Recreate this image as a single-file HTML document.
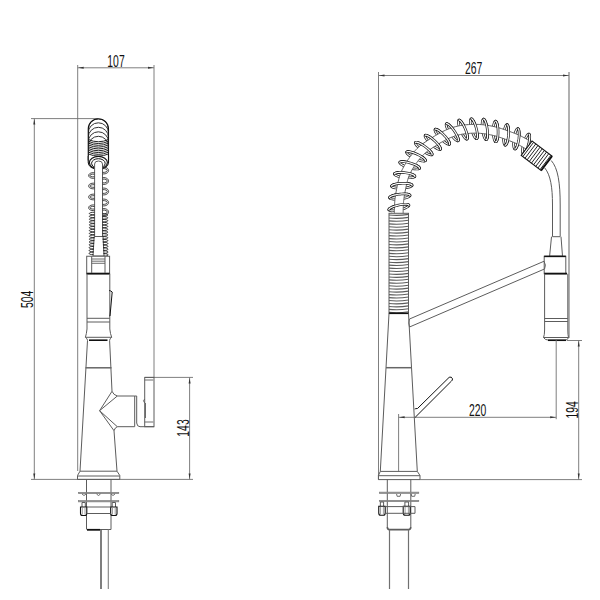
<!DOCTYPE html>
<html><head><meta charset="utf-8"><style>
html,body{margin:0;padding:0;background:#fff;}
svg{display:block;}
text{font-family:"Liberation Sans",sans-serif;}
</style></head><body>
<svg width="600" height="600" viewBox="0 0 600 600">
<rect width="600" height="600" fill="#fff"/>
<line x1="77.70" y1="65.00" x2="77.70" y2="471.00" stroke="#707070" stroke-width="0.9"/>
<line x1="154.00" y1="65.00" x2="154.00" y2="377.40" stroke="#707070" stroke-width="0.9"/>
<line x1="77.70" y1="67.80" x2="154.00" y2="67.80" stroke="#707070" stroke-width="0.9"/>
<polygon points="78.20,67.80 83.70,66.80 83.70,68.80" fill="#333"/>
<polygon points="153.50,67.80 148.00,68.80 148.00,66.80" fill="#333"/>
<text transform="translate(116.00,66.80) scale(0.6,1)" text-anchor="middle" font-size="17.3" fill="#111">107</text>
<line x1="31.00" y1="118.60" x2="98.00" y2="118.60" stroke="#707070" stroke-width="0.9"/>
<line x1="34.30" y1="118.60" x2="34.30" y2="479.40" stroke="#707070" stroke-width="0.9"/>
<polygon points="34.30,119.10 35.30,124.60 33.30,124.60" fill="#333"/>
<polygon points="34.30,478.90 33.30,473.40 35.30,473.40" fill="#333"/>
<text transform="translate(33.20,299.30) rotate(-90) scale(0.6,1)" text-anchor="middle" font-size="17.3" fill="#111">504</text>
<line x1="31.00" y1="479.40" x2="193.00" y2="479.40" stroke="#707070" stroke-width="0.9"/>
<line x1="145.00" y1="377.40" x2="193.00" y2="377.40" stroke="#707070" stroke-width="0.9"/>
<line x1="189.60" y1="377.40" x2="189.60" y2="479.40" stroke="#707070" stroke-width="0.9"/>
<polygon points="189.60,377.90 190.60,383.40 188.60,383.40" fill="#333"/>
<polygon points="189.60,478.90 188.60,473.40 190.60,473.40" fill="#333"/>
<text transform="translate(188.80,428.00) rotate(-90) scale(0.6,1)" text-anchor="middle" font-size="17.3" fill="#111">143</text>
<defs><clipPath id="hc"><path d="M88.25,128.82 A10.12,10.12 0 0 1 108.50,128.82 L108.50,167 L88.25,167 Z"/></clipPath></defs>
<path d="M88.25,128.82 A10.12,10.12 0 0 1 108.50,128.82 L108.50,160 L88.25,160 Z" fill="#fff" stroke="#111" stroke-width="1.1" />
<g clip-path="url(#hc)">
<path d="M88.25,132.93 A10.12,10.12 0 0 1 108.50,132.93 L108.50,138.93" fill="none" stroke="#333" stroke-width="1.0"/>
<path d="M88.25,137.43 A10.12,10.12 0 0 1 108.50,137.43 L108.50,143.43" fill="none" stroke="#333" stroke-width="1.0"/>
<path d="M88.25,141.93 A10.12,10.12 0 0 1 108.50,141.93 L108.50,147.93" fill="none" stroke="#333" stroke-width="1.0"/>
<path d="M88.25,146.43 A10.12,10.12 0 0 1 108.50,146.43 L108.50,152.43" fill="none" stroke="#333" stroke-width="1.0"/>
<path d="M88.25,160.00 L88.25,128.82 A10.12,10.12 0 0 1 108.50,128.82 L108.50,160.00" fill="none" stroke="#111" stroke-width="1.1"/>
<path d="M88.25,139.50 Q98.38,144.00 108.50,139.50" fill="none" stroke="#222" stroke-width="1.0"/>
<path d="M88.25,141.30 Q98.38,145.80 108.50,141.30" fill="none" stroke="#222" stroke-width="1.0"/>
<path d="M88.25,143.10 Q98.38,147.60 108.50,143.10" fill="none" stroke="#222" stroke-width="1.0"/>
<path d="M88.25,144.90 Q98.38,149.40 108.50,144.90" fill="none" stroke="#222" stroke-width="1.0"/>
<path d="M88.25,146.70 Q98.38,151.20 108.50,146.70" fill="none" stroke="#222" stroke-width="1.0"/>
<path d="M88.25,148.50 Q98.38,153.00 108.50,148.50" fill="none" stroke="#222" stroke-width="1.0"/>
<path d="M88.25,150.30 Q98.38,154.80 108.50,150.30" fill="none" stroke="#222" stroke-width="1.0"/>
<path d="M88.25,152.10 Q98.38,156.60 108.50,152.10" fill="none" stroke="#222" stroke-width="1.0"/>
<path d="M88.25,153.90 Q98.38,158.40 108.50,153.90" fill="none" stroke="#222" stroke-width="1.0"/>
</g>
<path d="M88.25,156 L88.25,162.5 A10.12,6.9 0 0 0 108.50,162.5 L108.50,156" fill="#fff" stroke="#111" stroke-width="1.1" />
<ellipse cx="98.38" cy="162.6" rx="9.0" ry="6.2" fill="none" stroke="#111" stroke-width="1.1"/>
<ellipse cx="98.38" cy="163.3" rx="6.8" ry="4.6" fill="none" stroke="#111" stroke-width="1.0"/>
<path d="M94.6,237 L94.6,164 Q94.6,161 98.5,161 Q102.5,161 102.5,164 L102.5,237" fill="#fff" stroke="#5c5c5c" stroke-width="1.0" />
<path d="M94.60,172.70 C86.60,172.10 86.60,178.90 94.60,178.30" fill="none" stroke="#333" stroke-width="0.9"/>
<path d="M94.60,174.20 C88.30,173.80 88.30,177.20 94.60,176.80" fill="none" stroke="#333" stroke-width="0.9"/>
<path d="M94.60,183.20 C86.60,182.60 86.60,189.40 94.60,188.80" fill="none" stroke="#333" stroke-width="0.9"/>
<path d="M94.60,184.70 C88.30,184.30 88.30,187.70 94.60,187.30" fill="none" stroke="#333" stroke-width="0.9"/>
<path d="M94.60,194.20 C86.60,193.60 86.60,200.40 94.60,199.80" fill="none" stroke="#333" stroke-width="0.9"/>
<path d="M94.60,195.70 C88.30,195.30 88.30,198.70 94.60,198.30" fill="none" stroke="#333" stroke-width="0.9"/>
<path d="M94.60,204.95 C86.60,204.35 86.60,211.15 94.60,210.55" fill="none" stroke="#333" stroke-width="0.9"/>
<path d="M94.60,206.45 C88.30,206.05 88.30,209.45 94.60,209.05" fill="none" stroke="#333" stroke-width="0.9"/>
<path d="M102.50,167.10 C110.60,166.50 110.60,174.50 102.50,173.90" fill="none" stroke="#333" stroke-width="0.9"/>
<path d="M102.50,168.60 C108.90,168.20 108.90,172.80 102.50,172.40" fill="none" stroke="#333" stroke-width="0.9"/>
<path d="M102.50,177.60 C110.60,177.00 110.60,185.00 102.50,184.40" fill="none" stroke="#333" stroke-width="0.9"/>
<path d="M102.50,179.10 C108.90,178.70 108.90,183.30 102.50,182.90" fill="none" stroke="#333" stroke-width="0.9"/>
<path d="M102.50,188.10 C110.60,187.50 110.60,195.50 102.50,194.90" fill="none" stroke="#333" stroke-width="0.9"/>
<path d="M102.50,189.60 C108.90,189.20 108.90,193.80 102.50,193.40" fill="none" stroke="#333" stroke-width="0.9"/>
<path d="M102.50,199.10 C110.60,198.50 110.60,206.50 102.50,205.90" fill="none" stroke="#333" stroke-width="0.9"/>
<path d="M102.50,200.60 C108.90,200.20 108.90,204.80 102.50,204.40" fill="none" stroke="#333" stroke-width="0.9"/>
<path d="M102.50,208.60 C110.60,208.00 110.60,216.00 102.50,215.40" fill="none" stroke="#333" stroke-width="0.9"/>
<path d="M102.50,210.10 C108.90,209.70 108.90,214.30 102.50,213.90" fill="none" stroke="#333" stroke-width="0.9"/>
<polygon points="94.20,236.50 93.00,256.00 104.00,256.00 103.00,236.50" fill="#fff" stroke="#5c5c5c" stroke-width="1.0"/>
<path d="M94.50,212.30 C87.6,212.00 87.6,215.00 94.50,214.70" fill="none" stroke="#1a1a1a" stroke-width="0.85" />
<path d="M94.50,215.15 C87.6,214.85 87.6,217.85 94.50,217.55" fill="none" stroke="#1a1a1a" stroke-width="0.85" />
<path d="M94.50,218.00 C87.6,217.70 87.6,220.70 94.50,220.40" fill="none" stroke="#1a1a1a" stroke-width="0.85" />
<path d="M94.50,220.85 C87.6,220.55 87.6,223.55 94.50,223.25" fill="none" stroke="#1a1a1a" stroke-width="0.85" />
<path d="M94.50,223.70 C87.6,223.40 87.6,226.40 94.50,226.10" fill="none" stroke="#1a1a1a" stroke-width="0.85" />
<path d="M94.50,226.55 C87.6,226.25 87.6,229.25 94.50,228.95" fill="none" stroke="#1a1a1a" stroke-width="0.85" />
<path d="M94.50,229.40 C87.6,229.10 87.6,232.10 94.50,231.80" fill="none" stroke="#1a1a1a" stroke-width="0.85" />
<path d="M94.50,232.25 C87.6,231.95 87.6,234.95 94.50,234.65" fill="none" stroke="#1a1a1a" stroke-width="0.85" />
<path d="M94.50,235.10 C87.6,234.80 87.6,237.80 94.50,237.50" fill="none" stroke="#1a1a1a" stroke-width="0.85" />
<path d="M94.34,237.95 C87.6,237.65 87.6,240.65 94.34,240.35" fill="none" stroke="#1a1a1a" stroke-width="0.85" />
<path d="M94.16,240.80 C87.6,240.50 87.6,243.50 94.16,243.20" fill="none" stroke="#1a1a1a" stroke-width="0.85" />
<path d="M93.99,243.65 C87.6,243.35 87.6,246.35 93.99,246.05" fill="none" stroke="#1a1a1a" stroke-width="0.85" />
<path d="M93.81,246.50 C87.6,246.20 87.6,249.20 93.81,248.90" fill="none" stroke="#1a1a1a" stroke-width="0.85" />
<path d="M93.64,249.35 C87.6,249.05 87.6,252.05 93.64,251.75" fill="none" stroke="#1a1a1a" stroke-width="0.85" />
<path d="M93.46,252.20 C87.6,251.90 87.6,254.90 93.46,254.60" fill="none" stroke="#1a1a1a" stroke-width="0.85" />
<path d="M102.50,213.80 C109.6,213.50 109.6,216.50 102.50,216.20" fill="none" stroke="#1a1a1a" stroke-width="0.85" />
<path d="M102.50,216.65 C109.6,216.35 109.6,219.35 102.50,219.05" fill="none" stroke="#1a1a1a" stroke-width="0.85" />
<path d="M102.50,219.50 C109.6,219.20 109.6,222.20 102.50,221.90" fill="none" stroke="#1a1a1a" stroke-width="0.85" />
<path d="M102.50,222.35 C109.6,222.05 109.6,225.05 102.50,224.75" fill="none" stroke="#1a1a1a" stroke-width="0.85" />
<path d="M102.50,225.20 C109.6,224.90 109.6,227.90 102.50,227.60" fill="none" stroke="#1a1a1a" stroke-width="0.85" />
<path d="M102.50,228.05 C109.6,227.75 109.6,230.75 102.50,230.45" fill="none" stroke="#1a1a1a" stroke-width="0.85" />
<path d="M102.50,230.90 C109.6,230.60 109.6,233.60 102.50,233.30" fill="none" stroke="#1a1a1a" stroke-width="0.85" />
<path d="M102.50,233.75 C109.6,233.45 109.6,236.45 102.50,236.15" fill="none" stroke="#1a1a1a" stroke-width="0.85" />
<path d="M102.58,236.60 C109.6,236.30 109.6,239.30 102.58,239.00" fill="none" stroke="#1a1a1a" stroke-width="0.85" />
<path d="M102.76,239.45 C109.6,239.15 109.6,242.15 102.76,241.85" fill="none" stroke="#1a1a1a" stroke-width="0.85" />
<path d="M102.93,242.30 C109.6,242.00 109.6,245.00 102.93,244.70" fill="none" stroke="#1a1a1a" stroke-width="0.85" />
<path d="M103.11,245.15 C109.6,244.85 109.6,247.85 103.11,247.55" fill="none" stroke="#1a1a1a" stroke-width="0.85" />
<path d="M103.28,248.00 C109.6,247.70 109.6,250.70 103.28,250.40" fill="none" stroke="#1a1a1a" stroke-width="0.85" />
<path d="M103.46,250.85 C109.6,250.55 109.6,253.55 103.46,253.25" fill="none" stroke="#1a1a1a" stroke-width="0.85" />
<path d="M103.63,253.70 C109.6,253.40 109.6,256.40 103.63,256.10" fill="none" stroke="#1a1a1a" stroke-width="0.85" />
<rect x="86.70" y="256.25" width="22.90" height="17.50" fill="#fff" stroke="#5c5c5c" stroke-width="1.0"/>
<line x1="86.70" y1="273.60" x2="109.60" y2="273.60" stroke="#111" stroke-width="1.8"/>
<line x1="91.70" y1="256.25" x2="91.70" y2="273.00" stroke="#5c5c5c" stroke-width="1.0"/>
<line x1="105.00" y1="256.25" x2="105.00" y2="273.00" stroke="#5c5c5c" stroke-width="1.0"/>
<line x1="91.70" y1="259.00" x2="105.00" y2="259.00" stroke="#5c5c5c" stroke-width="0.9"/>
<line x1="91.70" y1="261.20" x2="105.00" y2="261.20" stroke="#5c5c5c" stroke-width="0.9"/>
<line x1="91.70" y1="263.30" x2="105.00" y2="263.30" stroke="#5c5c5c" stroke-width="0.9"/>
<path d="M87,273.75 L87,329 Q86.5,334 85.4,337.3 L111.7,337.3 Q110.3,334 109.8,329 L109.8,273.75" fill="none" stroke="#5c5c5c" stroke-width="1.0" />
<line x1="87.00" y1="318.30" x2="109.80" y2="318.30" stroke="#5c5c5c" stroke-width="1.0"/>
<line x1="87.00" y1="322.00" x2="109.80" y2="322.00" stroke="#5c5c5c" stroke-width="1.0"/>
<path d="M109.2,290.5 Q110.5,290.5 112.2,292 L110,316 L109.6,316" fill="none" stroke="#111" stroke-width="1.0" />
<path d="M85.4,337.3 Q87.5,338.5 87.5,340.5 M111.7,337.3 Q109.6,338.5 109.6,340.5" fill="none" stroke="#5c5c5c" stroke-width="1.0" />
<line x1="89.00" y1="340.20" x2="107.50" y2="340.20" stroke="#111" stroke-width="1.6"/>
<path d="M87.5,340.5 L80,471.2" fill="none" stroke="#5c5c5c" stroke-width="1.0" />
<path d="M109.6,340.5 L112,391.3" fill="none" stroke="#5c5c5c" stroke-width="1.0" />
<path d="M114,430.7 L117,471.2" fill="none" stroke="#5c5c5c" stroke-width="1.0" />
<line x1="85.50" y1="367.80" x2="111.50" y2="367.80" stroke="#666" stroke-width="1.5"/>
<polyline points="112.00,391.30 99.60,410.70 114.00,430.70" fill="none" stroke="#5c5c5c" stroke-width="1.0"/>
<polyline points="117.30,396.00 99.60,410.70 117.30,426.70" fill="none" stroke="#5c5c5c" stroke-width="1.0"/>
<path d="M112,391.3 Q113.5,395 117.3,396 M114,430.7 Q115,427.5 117.3,426.7" fill="none" stroke="#5c5c5c" stroke-width="1.0" />
<line x1="117.30" y1="396.00" x2="134.70" y2="396.00" stroke="#5c5c5c" stroke-width="1.0"/>
<line x1="117.30" y1="426.70" x2="134.70" y2="426.70" stroke="#5c5c5c" stroke-width="1.0"/>
<line x1="134.70" y1="396.00" x2="134.70" y2="426.70" stroke="#5c5c5c" stroke-width="1.0"/>
<path d="M134.7,396 L136.7,396 L136.7,423 Q137,426.7 140,426.7 L154,426.7" fill="none" stroke="#5c5c5c" stroke-width="1.0" />
<rect x="144.70" y="377.40" width="9.30" height="49.30" fill="none" stroke="#5c5c5c" stroke-width="1.0"/>
<line x1="144.70" y1="380.00" x2="153.30" y2="380.00" stroke="#5c5c5c" stroke-width="0.9"/>
<line x1="144.70" y1="422.00" x2="153.30" y2="422.00" stroke="#5c5c5c" stroke-width="0.9"/>
<path d="M144.7,399 Q142.2,400.5 144.7,403" fill="none" stroke="#5c5c5c" stroke-width="0.9" />
<line x1="145.50" y1="403.00" x2="145.50" y2="418.00" stroke="#5c5c5c" stroke-width="0.9"/>
<polyline points="80.00,471.20 117.00,471.20" fill="none" stroke="#5c5c5c" stroke-width="1.0"/>
<polyline points="80.00,471.20 77.50,475.50 77.50,479.40 119.80,479.40 119.80,475.50 117.00,471.20" fill="none" stroke="#5c5c5c" stroke-width="1.0"/>
<line x1="77.50" y1="476.00" x2="119.80" y2="476.00" stroke="#5c5c5c" stroke-width="1.0"/>
<line x1="86.50" y1="479.40" x2="86.50" y2="529.50" stroke="#5c5c5c" stroke-width="1.0"/>
<line x1="111.00" y1="479.40" x2="111.00" y2="529.50" stroke="#5c5c5c" stroke-width="1.0"/>
<rect x="78.50" y="492.30" width="40.30" height="1.40" fill="#999" stroke="#777" stroke-width="0.6"/>
<rect x="78.50" y="500.50" width="40.30" height="1.40" fill="#999" stroke="#777" stroke-width="0.6"/>
<path d="M82.00,494 Q84.00,497 86.00,494" fill="none" stroke="#5c5c5c" stroke-width="0.9" />
<path d="M96.50,494 Q98.50,497 100.50,494" fill="none" stroke="#5c5c5c" stroke-width="0.9" />
<path d="M111.00,494 Q113.00,497 115.00,494" fill="none" stroke="#5c5c5c" stroke-width="0.9" />
<path d="M82.00,507 L82.00,502.5 L85.30,502.5 L85.30,507" fill="none" stroke="#5c5c5c" stroke-width="1.0" />
<path d="M80.50,507 L80.50,513.5 Q80.50,515.5 82.50,515.5 L84.80,515.5 Q86.80,515.5 86.80,513.5 L86.80,507 Z" fill="#fff" stroke="#111" stroke-width="1.1" />
<line x1="82.30" y1="507.50" x2="82.30" y2="514.50" stroke="#888" stroke-width="0.8"/>
<line x1="85.00" y1="507.50" x2="85.00" y2="514.50" stroke="#888" stroke-width="0.8"/>
<path d="M112.20,507 L112.20,502.5 L115.50,502.5 L115.50,507" fill="none" stroke="#5c5c5c" stroke-width="1.0" />
<path d="M110.70,507 L110.70,513.5 Q110.70,515.5 112.70,515.5 L115.00,515.5 Q117.00,515.5 117.00,513.5 L117.00,507 Z" fill="#fff" stroke="#111" stroke-width="1.1" />
<line x1="112.50" y1="507.50" x2="112.50" y2="514.50" stroke="#888" stroke-width="0.8"/>
<line x1="115.20" y1="507.50" x2="115.20" y2="514.50" stroke="#888" stroke-width="0.8"/>
<line x1="86.80" y1="507.00" x2="110.70" y2="507.00" stroke="#5c5c5c" stroke-width="1.0"/>
<line x1="86.80" y1="513.50" x2="110.70" y2="513.50" stroke="#5c5c5c" stroke-width="1.0"/>
<line x1="87.00" y1="529.50" x2="111.00" y2="529.50" stroke="#5c5c5c" stroke-width="1.0"/>
<line x1="87.00" y1="529.80" x2="100.00" y2="529.80" stroke="#111" stroke-width="1.8"/>
<line x1="101.00" y1="529.50" x2="101.00" y2="589.00" stroke="#555" stroke-width="1.5"/>
<line x1="108.30" y1="529.50" x2="108.30" y2="589.00" stroke="#808080" stroke-width="1.1"/>
<line x1="378.50" y1="72.00" x2="378.50" y2="479.60" stroke="#707070" stroke-width="0.9"/>
<line x1="569.00" y1="72.00" x2="569.00" y2="338.00" stroke="#707070" stroke-width="1.1"/>
<line x1="378.50" y1="75.50" x2="569.00" y2="75.50" stroke="#707070" stroke-width="0.9"/>
<polygon points="379.00,75.50 384.50,74.50 384.50,76.50" fill="#333"/>
<polygon points="568.50,75.50 563.00,76.50 563.00,74.50" fill="#333"/>
<text transform="translate(473.60,73.80) scale(0.6,1)" text-anchor="middle" font-size="17.3" fill="#111">267</text>
<polyline points="388.77,209.70 388.91,209.29 389.29,208.82 389.90,208.33 390.74,207.81 391.77,207.29 392.98,206.77 394.34,206.27 395.80,205.81 397.34,205.38 398.91,205.00 400.49,204.69 402.02,204.44 403.48,204.27 404.82,204.18 406.01,204.18 407.03,204.25 407.85,204.40 408.44,204.63 408.80,204.93 408.91,205.30 408.77,205.72 408.39,206.18 407.78,206.67 406.94,207.19 405.91,207.71 404.70,208.23 403.35,208.73 401.88,209.20 400.34,209.62 398.77,210.00 397.19,210.31 395.66,210.56 394.20,210.73 392.86,210.82 391.67,210.83 390.65,210.75 389.84,210.60 389.24,210.37 388.88,210.07 388.77,209.70" fill="none" stroke="#1a1a1a" stroke-width="2.6" stroke-linecap="round" stroke-linejoin="round"/>
<polyline points="388.77,209.70 388.91,209.29 389.29,208.82 389.90,208.33 390.74,207.81 391.77,207.29 392.98,206.77 394.34,206.27 395.80,205.81 397.34,205.38 398.91,205.00 400.49,204.69 402.02,204.44 403.48,204.27 404.82,204.18 406.01,204.18 407.03,204.25 407.85,204.40 408.44,204.63 408.80,204.93 408.91,205.30 408.77,205.72 408.39,206.18 407.78,206.67 406.94,207.19 405.91,207.71 404.70,208.23 403.35,208.73 401.88,209.20 400.34,209.62 398.77,210.00 397.19,210.31 395.66,210.56 394.20,210.73 392.86,210.82 391.67,210.83 390.65,210.75 389.84,210.60 389.24,210.37 388.88,210.07 388.77,209.70" fill="none" stroke="#fff" stroke-width="1.2" stroke-linecap="round" stroke-linejoin="round"/>
<polyline points="389.53,197.56 389.71,197.16 390.14,196.75 390.81,196.33 391.70,195.92 392.79,195.52 394.05,195.14 395.45,194.81 396.96,194.51 398.54,194.26 400.15,194.08 401.75,193.95 403.30,193.88 404.77,193.88 406.11,193.95 407.30,194.08 408.30,194.27 409.09,194.52 409.65,194.82 409.97,195.16 410.04,195.53 409.86,195.93 409.43,196.35 408.76,196.77 407.87,197.18 406.78,197.58 405.52,197.95 404.12,198.29 402.61,198.59 401.03,198.83 399.42,199.02 397.82,199.15 396.27,199.21 394.80,199.21 393.46,199.15 392.27,199.01 391.27,198.82 390.48,198.58 389.92,198.28 389.60,197.94 389.53,197.56" fill="none" stroke="#1a1a1a" stroke-width="2.6" stroke-linecap="round" stroke-linejoin="round"/>
<polyline points="389.53,197.56 389.71,197.16 390.14,196.75 390.81,196.33 391.70,195.92 392.79,195.52 394.05,195.14 395.45,194.81 396.96,194.51 398.54,194.26 400.15,194.08 401.75,193.95 403.30,193.88 404.77,193.88 406.11,193.95 407.30,194.08 408.30,194.27 409.09,194.52 409.65,194.82 409.97,195.16 410.04,195.53 409.86,195.93 409.43,196.35 408.76,196.77 407.87,197.18 406.78,197.58 405.52,197.95 404.12,198.29 402.61,198.59 401.03,198.83 399.42,199.02 397.82,199.15 396.27,199.21 394.80,199.21 393.46,199.15 392.27,199.01 391.27,198.82 390.48,198.58 389.92,198.28 389.60,197.94 389.53,197.56" fill="none" stroke="#fff" stroke-width="1.2" stroke-linecap="round" stroke-linejoin="round"/>
<polyline points="391.50,186.05 391.71,185.67 392.17,185.28 392.86,184.91 393.78,184.56 394.89,184.23 396.17,183.95 397.60,183.70 399.12,183.51 400.71,183.37 402.33,183.29 403.94,183.27 405.49,183.32 406.95,183.42 408.29,183.57 409.46,183.79 410.45,184.05 411.22,184.35 411.76,184.68 412.06,185.04 412.10,185.42 411.89,185.81 411.44,186.19 410.74,186.56 409.82,186.92 408.71,187.24 407.43,187.53 406.00,187.77 404.48,187.96 402.89,188.10 401.27,188.18 399.66,188.20 398.11,188.16 396.65,188.06 395.31,187.90 394.14,187.69 393.15,187.43 392.38,187.13 391.84,186.79 391.54,186.43 391.50,186.05" fill="none" stroke="#1a1a1a" stroke-width="2.6" stroke-linecap="round" stroke-linejoin="round"/>
<polyline points="391.50,186.05 391.71,185.67 392.17,185.28 392.86,184.91 393.78,184.56 394.89,184.23 396.17,183.95 397.60,183.70 399.12,183.51 400.71,183.37 402.33,183.29 403.94,183.27 405.49,183.32 406.95,183.42 408.29,183.57 409.46,183.79 410.45,184.05 411.22,184.35 411.76,184.68 412.06,185.04 412.10,185.42 411.89,185.81 411.44,186.19 410.74,186.56 409.82,186.92 408.71,187.24 407.43,187.53 406.00,187.77 404.48,187.96 402.89,188.10 401.27,188.18 399.66,188.20 398.11,188.16 396.65,188.06 395.31,187.90 394.14,187.69 393.15,187.43 392.38,187.13 391.84,186.79 391.54,186.43 391.50,186.05" fill="none" stroke="#fff" stroke-width="1.2" stroke-linecap="round" stroke-linejoin="round"/>
<polyline points="394.43,173.76 394.70,173.42 395.22,173.11 395.96,172.86 396.92,172.66 398.08,172.52 399.39,172.45 400.83,172.44 402.37,172.49 403.96,172.62 405.57,172.80 407.16,173.04 408.68,173.34 410.11,173.67 411.40,174.05 412.52,174.44 413.46,174.86 414.17,175.28 414.65,175.70 414.88,176.11 414.87,176.49 414.60,176.83 414.08,177.14 413.33,177.39 412.37,177.59 411.22,177.73 409.91,177.81 408.47,177.81 406.93,177.76 405.34,177.63 403.73,177.45 402.14,177.21 400.61,176.91 399.19,176.58 397.90,176.21 396.77,175.81 395.84,175.39 395.13,174.97 394.65,174.55 394.41,174.14 394.43,173.76" fill="none" stroke="#1a1a1a" stroke-width="2.6" stroke-linecap="round" stroke-linejoin="round"/>
<polyline points="394.43,173.76 394.70,173.42 395.22,173.11 395.96,172.86 396.92,172.66 398.08,172.52 399.39,172.45 400.83,172.44 402.37,172.49 403.96,172.62 405.57,172.80 407.16,173.04 408.68,173.34 410.11,173.67 411.40,174.05 412.52,174.44 413.46,174.86 414.17,175.28 414.65,175.70 414.88,176.11 414.87,176.49 414.60,176.83 414.08,177.14 413.33,177.39 412.37,177.59 411.22,177.73 409.91,177.81 408.47,177.81 406.93,177.76 405.34,177.63 403.73,177.45 402.14,177.21 400.61,176.91 399.19,176.58 397.90,176.21 396.77,175.81 395.84,175.39 395.13,174.97 394.65,174.55 394.41,174.14 394.43,173.76" fill="none" stroke="#fff" stroke-width="1.2" stroke-linecap="round" stroke-linejoin="round"/>
<polyline points="399.77,162.24 400.10,161.95 400.65,161.74 401.43,161.61 402.42,161.58 403.57,161.64 404.88,161.79 406.30,162.02 407.81,162.34 409.36,162.73 410.91,163.19 412.43,163.70 413.89,164.24 415.24,164.82 416.45,165.40 417.49,165.99 418.33,166.56 418.97,167.09 419.37,167.59 419.53,168.03 419.45,168.40 419.12,168.69 418.56,168.91 417.78,169.03 416.80,169.07 415.64,169.01 414.34,168.86 412.91,168.62 411.41,168.30 409.86,167.91 408.31,167.46 406.78,166.95 405.33,166.40 403.98,165.83 402.77,165.24 401.73,164.65 400.88,164.09 400.25,163.55 399.85,163.05 399.69,162.62 399.77,162.24" fill="none" stroke="#1a1a1a" stroke-width="2.6" stroke-linecap="round" stroke-linejoin="round"/>
<polyline points="399.77,162.24 400.10,161.95 400.65,161.74 401.43,161.61 402.42,161.58 403.57,161.64 404.88,161.79 406.30,162.02 407.81,162.34 409.36,162.73 410.91,163.19 412.43,163.70 413.89,164.24 415.24,164.82 416.45,165.40 417.49,165.99 418.33,166.56 418.97,167.09 419.37,167.59 419.53,168.03 419.45,168.40 419.12,168.69 418.56,168.91 417.78,169.03 416.80,169.07 415.64,169.01 414.34,168.86 412.91,168.62 411.41,168.30 409.86,167.91 408.31,167.46 406.78,166.95 405.33,166.40 403.98,165.83 402.77,165.24 401.73,164.65 400.88,164.09 400.25,163.55 399.85,163.05 399.69,162.62 399.77,162.24" fill="none" stroke="#fff" stroke-width="1.2" stroke-linecap="round" stroke-linejoin="round"/>
<polyline points="406.68,151.99 407.04,151.74 407.62,151.61 408.41,151.59 409.39,151.69 410.53,151.91 411.80,152.24 413.18,152.67 414.63,153.19 416.11,153.78 417.58,154.45 419.02,155.16 420.39,155.90 421.65,156.65 422.76,157.40 423.72,158.12 424.48,158.80 425.03,159.42 425.36,159.96 425.46,160.42 425.33,160.77 424.97,161.02 424.38,161.16 423.60,161.17 422.62,161.07 421.48,160.86 420.21,160.53 418.83,160.10 417.38,159.58 415.90,158.98 414.42,158.32 412.98,157.61 411.62,156.87 410.36,156.12 409.24,155.37 408.29,154.65 407.53,153.97 406.98,153.35 406.64,152.81 406.54,152.35 406.68,151.99" fill="none" stroke="#1a1a1a" stroke-width="2.6" stroke-linecap="round" stroke-linejoin="round"/>
<polyline points="406.68,151.99 407.04,151.74 407.62,151.61 408.41,151.59 409.39,151.69 410.53,151.91 411.80,152.24 413.18,152.67 414.63,153.19 416.11,153.78 417.58,154.45 419.02,155.16 420.39,155.90 421.65,156.65 422.76,157.40 423.72,158.12 424.48,158.80 425.03,159.42 425.36,159.96 425.46,160.42 425.33,160.77 424.97,161.02 424.38,161.16 423.60,161.17 422.62,161.07 421.48,160.86 420.21,160.53 418.83,160.10 417.38,159.58 415.90,158.98 414.42,158.32 412.98,157.61 411.62,156.87 410.36,156.12 409.24,155.37 408.29,154.65 407.53,153.97 406.98,153.35 406.64,152.81 406.54,152.35 406.68,151.99" fill="none" stroke="#fff" stroke-width="1.2" stroke-linecap="round" stroke-linejoin="round"/>
<polyline points="415.47,142.37 415.88,142.20 416.48,142.19 417.25,142.33 418.19,142.63 419.26,143.07 420.44,143.65 421.70,144.35 423.01,145.16 424.34,146.04 425.65,146.99 426.92,147.98 428.10,148.98 429.18,149.98 430.12,150.93 430.91,151.83 431.52,152.65 431.93,153.37 432.15,153.97 432.15,154.44 431.95,154.76 431.54,154.93 430.95,154.95 430.17,154.80 429.23,154.50 428.16,154.06 426.98,153.48 425.72,152.78 424.41,151.98 423.08,151.09 421.77,150.14 420.50,149.15 419.32,148.15 418.24,147.16 417.30,146.20 416.51,145.30 415.90,144.48 415.49,143.76 415.28,143.16 415.27,142.69 415.47,142.37" fill="none" stroke="#1a1a1a" stroke-width="2.6" stroke-linecap="round" stroke-linejoin="round"/>
<polyline points="415.47,142.37 415.88,142.20 416.48,142.19 417.25,142.33 418.19,142.63 419.26,143.07 420.44,143.65 421.70,144.35 423.01,145.16 424.34,146.04 425.65,146.99 426.92,147.98 428.10,148.98 429.18,149.98 430.12,150.93 430.91,151.83 431.52,152.65 431.93,153.37 432.15,153.97 432.15,154.44 431.95,154.76 431.54,154.93 430.95,154.95 430.17,154.80 429.23,154.50 428.16,154.06 426.98,153.48 425.72,152.78 424.41,151.98 423.08,151.09 421.77,150.14 420.50,149.15 419.32,148.15 418.24,147.16 417.30,146.20 416.51,145.30 415.90,144.48 415.49,143.76 415.28,143.16 415.27,142.69 415.47,142.37" fill="none" stroke="#fff" stroke-width="1.2" stroke-linecap="round" stroke-linejoin="round"/>
<polyline points="425.29,135.28 425.71,135.16 426.30,135.21 427.06,135.44 427.96,135.84 428.97,136.40 430.08,137.11 431.26,137.94 432.47,138.89 433.69,139.92 434.89,141.01 436.04,142.13 437.11,143.26 438.07,144.37 438.90,145.42 439.58,146.40 440.09,147.29 440.42,148.05 440.57,148.67 440.52,149.13 440.28,149.43 439.86,149.55 439.27,149.50 438.51,149.27 437.62,148.87 436.60,148.31 435.49,147.60 434.31,146.77 433.10,145.82 431.88,144.79 430.68,143.70 429.53,142.58 428.47,141.45 427.51,140.35 426.68,139.29 426.00,138.31 425.48,137.43 425.15,136.67 425.00,136.05 425.05,135.58 425.29,135.28" fill="none" stroke="#1a1a1a" stroke-width="2.6" stroke-linecap="round" stroke-linejoin="round"/>
<polyline points="425.29,135.28 425.71,135.16 426.30,135.21 427.06,135.44 427.96,135.84 428.97,136.40 430.08,137.11 431.26,137.94 432.47,138.89 433.69,139.92 434.89,141.01 436.04,142.13 437.11,143.26 438.07,144.37 438.90,145.42 439.58,146.40 440.09,147.29 440.42,148.05 440.57,148.67 440.52,149.13 440.28,149.43 439.86,149.55 439.27,149.50 438.51,149.27 437.62,148.87 436.60,148.31 435.49,147.60 434.31,146.77 433.10,145.82 431.88,144.79 430.68,143.70 429.53,142.58 428.47,141.45 427.51,140.35 426.68,139.29 426.00,138.31 425.48,137.43 425.15,136.67 425.00,136.05 425.05,135.58 425.29,135.28" fill="none" stroke="#fff" stroke-width="1.2" stroke-linecap="round" stroke-linejoin="round"/>
<polyline points="435.20,129.25 435.63,129.15 436.22,129.24 436.96,129.51 437.83,129.96 438.81,130.59 439.87,131.36 441.00,132.26 442.15,133.28 443.31,134.38 444.44,135.54 445.51,136.73 446.51,137.92 447.40,139.09 448.17,140.19 448.79,141.21 449.25,142.12 449.53,142.90 449.64,143.53 449.56,143.99 449.31,144.28 448.88,144.37 448.29,144.28 447.55,144.01 446.68,143.56 445.70,142.94 444.63,142.16 443.51,141.26 442.36,140.24 441.20,139.14 440.07,137.98 438.99,136.79 438.00,135.60 437.11,134.43 436.34,133.33 435.72,132.31 435.26,131.40 434.98,130.62 434.87,129.99 434.94,129.53 435.20,129.25" fill="none" stroke="#1a1a1a" stroke-width="2.6" stroke-linecap="round" stroke-linejoin="round"/>
<polyline points="435.20,129.25 435.63,129.15 436.22,129.24 436.96,129.51 437.83,129.96 438.81,130.59 439.87,131.36 441.00,132.26 442.15,133.28 443.31,134.38 444.44,135.54 445.51,136.73 446.51,137.92 447.40,139.09 448.17,140.19 448.79,141.21 449.25,142.12 449.53,142.90 449.64,143.53 449.56,143.99 449.31,144.28 448.88,144.37 448.29,144.28 447.55,144.01 446.68,143.56 445.70,142.94 444.63,142.16 443.51,141.26 442.36,140.24 441.20,139.14 440.07,137.98 438.99,136.79 438.00,135.60 437.11,134.43 436.34,133.33 435.72,132.31 435.26,131.40 434.98,130.62 434.87,129.99 434.94,129.53 435.20,129.25" fill="none" stroke="#fff" stroke-width="1.2" stroke-linecap="round" stroke-linejoin="round"/>
<polyline points="446.56,123.69 447.00,123.67 447.57,123.85 448.25,124.25 449.03,124.84 449.90,125.61 450.82,126.55 451.78,127.63 452.75,128.82 453.71,130.10 454.63,131.43 455.50,132.78 456.28,134.12 456.97,135.41 457.54,136.63 457.99,137.74 458.29,138.71 458.44,139.53 458.45,140.16 458.30,140.61 458.00,140.84 457.56,140.87 456.99,140.68 456.31,140.29 455.52,139.70 454.66,138.93 453.74,137.99 452.78,136.91 451.81,135.72 450.85,134.44 449.92,133.11 449.06,131.76 448.27,130.42 447.58,129.12 447.01,127.91 446.57,126.80 446.27,125.82 446.11,125.01 446.11,124.37 446.26,123.93 446.56,123.69" fill="none" stroke="#1a1a1a" stroke-width="2.6" stroke-linecap="round" stroke-linejoin="round"/>
<polyline points="446.56,123.69 447.00,123.67 447.57,123.85 448.25,124.25 449.03,124.84 449.90,125.61 450.82,126.55 451.78,127.63 452.75,128.82 453.71,130.10 454.63,131.43 455.50,132.78 456.28,134.12 456.97,135.41 457.54,136.63 457.99,137.74 458.29,138.71 458.44,139.53 458.45,140.16 458.30,140.61 458.00,140.84 457.56,140.87 456.99,140.68 456.31,140.29 455.52,139.70 454.66,138.93 453.74,137.99 452.78,136.91 451.81,135.72 450.85,134.44 449.92,133.11 449.06,131.76 448.27,130.42 447.58,129.12 447.01,127.91 446.57,126.80 446.27,125.82 446.11,125.01 446.11,124.37 446.26,123.93 446.56,123.69" fill="none" stroke="#fff" stroke-width="1.2" stroke-linecap="round" stroke-linejoin="round"/>
<polyline points="459.06,120.06 459.49,120.13 460.01,120.42 460.60,120.94 461.25,121.68 461.94,122.61 462.66,123.72 463.38,124.96 464.09,126.33 464.77,127.77 465.41,129.26 465.99,130.76 466.49,132.23 466.90,133.64 467.22,134.94 467.43,136.12 467.53,137.13 467.51,137.96 467.39,138.59 467.15,138.99 466.81,139.16 466.38,139.10 465.86,138.80 465.27,138.28 464.62,137.55 463.93,136.61 463.21,135.51 462.49,134.26 461.78,132.90 461.10,131.45 460.46,129.96 459.88,128.47 459.38,127.00 458.97,125.59 458.65,124.28 458.44,123.11 458.34,122.09 458.36,121.26 458.48,120.64 458.72,120.23 459.06,120.06" fill="none" stroke="#1a1a1a" stroke-width="2.6" stroke-linecap="round" stroke-linejoin="round"/>
<polyline points="459.06,120.06 459.49,120.13 460.01,120.42 460.60,120.94 461.25,121.68 461.94,122.61 462.66,123.72 463.38,124.96 464.09,126.33 464.77,127.77 465.41,129.26 465.99,130.76 466.49,132.23 466.90,133.64 467.22,134.94 467.43,136.12 467.53,137.13 467.51,137.96 467.39,138.59 467.15,138.99 466.81,139.16 466.38,139.10 465.86,138.80 465.27,138.28 464.62,137.55 463.93,136.61 463.21,135.51 462.49,134.26 461.78,132.90 461.10,131.45 460.46,129.96 459.88,128.47 459.38,127.00 458.97,125.59 458.65,124.28 458.44,123.11 458.34,122.09 458.36,121.26 458.48,120.64 458.72,120.23 459.06,120.06" fill="none" stroke="#fff" stroke-width="1.2" stroke-linecap="round" stroke-linejoin="round"/>
<polyline points="471.33,118.77 471.75,118.89 472.22,119.26 472.74,119.85 473.29,120.67 473.85,121.69 474.41,122.88 474.96,124.21 475.48,125.66 475.96,127.18 476.39,128.74 476.76,130.30 477.06,131.83 477.29,133.27 477.42,134.61 477.48,135.80 477.44,136.82 477.31,137.64 477.11,138.25 476.82,138.61 476.46,138.74 476.04,138.62 475.56,138.26 475.04,137.66 474.50,136.84 473.94,135.83 473.38,134.64 472.83,133.30 472.31,131.86 471.83,130.33 471.39,128.77 471.02,127.21 470.72,125.69 470.50,124.24 470.36,122.90 470.31,121.71 470.35,120.69 470.47,119.87 470.68,119.27 470.97,118.90 471.33,118.77" fill="none" stroke="#1a1a1a" stroke-width="2.6" stroke-linecap="round" stroke-linejoin="round"/>
<polyline points="471.33,118.77 471.75,118.89 472.22,119.26 472.74,119.85 473.29,120.67 473.85,121.69 474.41,122.88 474.96,124.21 475.48,125.66 475.96,127.18 476.39,128.74 476.76,130.30 477.06,131.83 477.29,133.27 477.42,134.61 477.48,135.80 477.44,136.82 477.31,137.64 477.11,138.25 476.82,138.61 476.46,138.74 476.04,138.62 475.56,138.26 475.04,137.66 474.50,136.84 473.94,135.83 473.38,134.64 472.83,133.30 472.31,131.86 471.83,130.33 471.39,128.77 471.02,127.21 470.72,125.69 470.50,124.24 470.36,122.90 470.31,121.71 470.35,120.69 470.47,119.87 470.68,119.27 470.97,118.90 471.33,118.77" fill="none" stroke="#fff" stroke-width="1.2" stroke-linecap="round" stroke-linejoin="round"/>
<polyline points="483.65,119.17 484.05,119.35 484.48,119.77 484.91,120.43 485.34,121.32 485.76,122.40 486.16,123.65 486.52,125.05 486.85,126.55 487.12,128.12 487.34,129.73 487.50,131.32 487.60,132.87 487.62,134.34 487.58,135.68 487.48,136.87 487.30,137.88 487.07,138.67 486.78,139.24 486.45,139.57 486.08,139.65 485.67,139.47 485.25,139.05 484.82,138.39 484.39,137.51 483.97,136.42 483.57,135.17 483.21,133.78 482.88,132.27 482.60,130.70 482.38,129.09 482.23,127.50 482.13,125.95 482.10,124.48 482.15,123.14 482.25,121.95 482.43,120.94 482.66,120.15 482.94,119.58 483.28,119.25 483.65,119.17" fill="none" stroke="#1a1a1a" stroke-width="2.6" stroke-linecap="round" stroke-linejoin="round"/>
<polyline points="483.65,119.17 484.05,119.35 484.48,119.77 484.91,120.43 485.34,121.32 485.76,122.40 486.16,123.65 486.52,125.05 486.85,126.55 487.12,128.12 487.34,129.73 487.50,131.32 487.60,132.87 487.62,134.34 487.58,135.68 487.48,136.87 487.30,137.88 487.07,138.67 486.78,139.24 486.45,139.57 486.08,139.65 485.67,139.47 485.25,139.05 484.82,138.39 484.39,137.51 483.97,136.42 483.57,135.17 483.21,133.78 482.88,132.27 482.60,130.70 482.38,129.09 482.23,127.50 482.13,125.95 482.10,124.48 482.15,123.14 482.25,121.95 482.43,120.94 482.66,120.15 482.94,119.58 483.28,119.25 483.65,119.17" fill="none" stroke="#fff" stroke-width="1.2" stroke-linecap="round" stroke-linejoin="round"/>
<polyline points="495.65,121.21 496.03,121.43 496.40,121.90 496.75,122.60 497.07,123.53 497.37,124.65 497.61,125.94 497.81,127.37 497.96,128.90 498.05,130.50 498.08,132.12 498.05,133.72 497.96,135.27 497.82,136.73 497.62,138.06 497.37,139.23 497.09,140.21 496.76,140.97 496.41,141.50 496.04,141.79 495.66,141.82 495.28,141.60 494.91,141.13 494.56,140.42 494.23,139.50 493.94,138.38 493.70,137.08 493.50,135.65 493.35,134.12 493.26,132.53 493.23,130.91 493.26,129.30 493.35,127.75 493.49,126.30 493.69,124.97 493.93,123.80 494.22,122.82 494.55,122.06 494.90,121.52 495.27,121.24 495.65,121.21" fill="none" stroke="#1a1a1a" stroke-width="2.6" stroke-linecap="round" stroke-linejoin="round"/>
<polyline points="495.65,121.21 496.03,121.43 496.40,121.90 496.75,122.60 497.07,123.53 497.37,124.65 497.61,125.94 497.81,127.37 497.96,128.90 498.05,130.50 498.08,132.12 498.05,133.72 497.96,135.27 497.82,136.73 497.62,138.06 497.37,139.23 497.09,140.21 496.76,140.97 496.41,141.50 496.04,141.79 495.66,141.82 495.28,141.60 494.91,141.13 494.56,140.42 494.23,139.50 493.94,138.38 493.70,137.08 493.50,135.65 493.35,134.12 493.26,132.53 493.23,130.91 493.26,129.30 493.35,127.75 493.49,126.30 493.69,124.97 493.93,123.80 494.22,122.82 494.55,122.06 494.90,121.52 495.27,121.24 495.65,121.21" fill="none" stroke="#fff" stroke-width="1.2" stroke-linecap="round" stroke-linejoin="round"/>
<polyline points="507.15,124.63 507.51,124.89 507.83,125.39 508.11,126.13 508.34,127.08 508.51,128.23 508.63,129.54 508.69,130.98 508.68,132.52 508.61,134.12 508.47,135.73 508.28,137.32 508.04,138.86 507.75,140.29 507.42,141.60 507.05,142.73 506.67,143.68 506.27,144.41 505.86,144.90 505.47,145.15 505.09,145.14 504.73,144.88 504.41,144.38 504.13,143.64 503.90,142.68 503.73,141.54 503.61,140.23 503.56,138.79 503.56,137.25 503.64,135.65 503.77,134.04 503.96,132.44 504.20,130.91 504.49,129.47 504.83,128.17 505.19,127.03 505.57,126.09 505.97,125.36 506.38,124.87 506.77,124.62 507.15,124.63" fill="none" stroke="#1a1a1a" stroke-width="2.6" stroke-linecap="round" stroke-linejoin="round"/>
<polyline points="507.15,124.63 507.51,124.89 507.83,125.39 508.11,126.13 508.34,127.08 508.51,128.23 508.63,129.54 508.69,130.98 508.68,132.52 508.61,134.12 508.47,135.73 508.28,137.32 508.04,138.86 507.75,140.29 507.42,141.60 507.05,142.73 506.67,143.68 506.27,144.41 505.86,144.90 505.47,145.15 505.09,145.14 504.73,144.88 504.41,144.38 504.13,143.64 503.90,142.68 503.73,141.54 503.61,140.23 503.56,138.79 503.56,137.25 503.64,135.65 503.77,134.04 503.96,132.44 504.20,130.91 504.49,129.47 504.83,128.17 505.19,127.03 505.57,126.09 505.97,125.36 506.38,124.87 506.77,124.62 507.15,124.63" fill="none" stroke="#fff" stroke-width="1.2" stroke-linecap="round" stroke-linejoin="round"/>
<polyline points="518.01,128.61 518.35,128.89 518.64,129.41 518.88,130.16 519.06,131.13 519.17,132.28 519.21,133.59 519.18,135.04 519.09,136.57 518.93,138.16 518.70,139.77 518.42,141.35 518.09,142.86 517.72,144.28 517.32,145.56 516.89,146.68 516.45,147.60 516.01,148.30 515.58,148.77 515.17,149.00 514.79,148.97 514.45,148.69 514.16,148.17 513.92,147.42 513.75,146.45 513.64,145.30 513.60,143.98 513.62,142.54 513.72,141.01 513.88,139.42 514.10,137.81 514.38,136.23 514.71,134.71 515.08,133.30 515.49,132.01 515.91,130.90 516.35,129.98 516.79,129.27 517.22,128.80 517.63,128.58 518.01,128.61" fill="none" stroke="#1a1a1a" stroke-width="2.6" stroke-linecap="round" stroke-linejoin="round"/>
<polyline points="518.01,128.61 518.35,128.89 518.64,129.41 518.88,130.16 519.06,131.13 519.17,132.28 519.21,133.59 519.18,135.04 519.09,136.57 518.93,138.16 518.70,139.77 518.42,141.35 518.09,142.86 517.72,144.28 517.32,145.56 516.89,146.68 516.45,147.60 516.01,148.30 515.58,148.77 515.17,149.00 514.79,148.97 514.45,148.69 514.16,148.17 513.92,147.42 513.75,146.45 513.64,145.30 513.60,143.98 513.62,142.54 513.72,141.01 513.88,139.42 514.10,137.81 514.38,136.23 514.71,134.71 515.08,133.30 515.49,132.01 515.91,130.90 516.35,129.98 516.79,129.27 517.22,128.80 517.63,128.58 518.01,128.61" fill="none" stroke="#fff" stroke-width="1.2" stroke-linecap="round" stroke-linejoin="round"/>
<polyline points="529.04,134.09 529.34,134.41 529.56,134.97 529.70,135.75 529.74,136.73 529.70,137.89 529.57,139.20 529.35,140.62 529.05,142.13 528.68,143.68 528.25,145.24 527.76,146.77 527.23,148.23 526.67,149.59 526.10,150.81 525.53,151.86 524.97,152.71 524.44,153.35 523.96,153.76 523.52,153.93 523.15,153.85 522.85,153.53 522.63,152.97 522.49,152.19 522.45,151.21 522.49,150.05 522.62,148.74 522.84,147.32 523.14,145.81 523.51,144.26 523.94,142.70 524.43,141.17 524.96,139.71 525.52,138.35 526.09,137.13 526.66,136.08 527.22,135.23 527.74,134.59 528.23,134.18 528.67,134.01 529.04,134.09" fill="none" stroke="#1a1a1a" stroke-width="2.6" stroke-linecap="round" stroke-linejoin="round"/>
<polyline points="529.04,134.09 529.34,134.41 529.56,134.97 529.70,135.75 529.74,136.73 529.70,137.89 529.57,139.20 529.35,140.62 529.05,142.13 528.68,143.68 528.25,145.24 527.76,146.77 527.23,148.23 526.67,149.59 526.10,150.81 525.53,151.86 524.97,152.71 524.44,153.35 523.96,153.76 523.52,153.93 523.15,153.85 522.85,153.53 522.63,152.97 522.49,152.19 522.45,151.21 522.49,150.05 522.62,148.74 522.84,147.32 523.14,145.81 523.51,144.26 523.94,142.70 524.43,141.17 524.96,139.71 525.52,138.35 526.09,137.13 526.66,136.08 527.22,135.23 527.74,134.59 528.23,134.18 528.67,134.01 529.04,134.09" fill="none" stroke="#fff" stroke-width="1.2" stroke-linecap="round" stroke-linejoin="round"/>
<polygon points="403.15,214.06 403.16,213.43 403.16,212.60 403.17,211.63 403.18,210.56 403.20,209.44 403.22,208.31 403.25,207.22 403.30,206.21 403.35,205.24 403.40,204.29 403.45,203.37 403.52,202.46 403.59,201.53 403.69,200.57 403.81,199.53 403.96,198.41 404.14,197.17 404.35,195.82 404.59,194.40 404.85,192.94 405.12,191.45 405.41,189.97 405.70,188.53 406.00,187.13 406.30,185.75 406.60,184.39 406.89,183.08 407.19,181.80 407.51,180.56 407.85,179.36 408.21,178.19 408.62,177.05 409.08,175.89 409.58,174.72 410.14,173.54 410.72,172.36 411.34,171.18 411.97,170.02 412.62,168.87 413.28,167.76 413.93,166.69 414.60,165.65 415.28,164.62 415.99,163.62 416.71,162.63 417.44,161.65 418.18,160.70 418.93,159.76 419.67,158.85 420.41,157.97 421.15,157.11 421.89,156.29 422.64,155.50 423.39,154.73 424.15,153.99 424.93,153.29 425.70,152.62 426.48,151.99 427.28,151.37 428.12,150.76 429.00,150.14 429.93,149.51 430.91,148.85 431.94,148.16 433.01,147.45 434.12,146.73 435.27,145.99 436.45,145.25 437.64,144.51 438.84,143.79 440.02,143.09 441.19,142.42 442.35,141.76 443.49,141.11 444.61,140.48 445.71,139.89 446.81,139.32 447.91,138.77 449.02,138.26 450.18,137.77 451.40,137.28 452.65,136.81 453.93,136.35 455.22,135.92 456.52,135.52 457.84,135.14 459.16,134.81 460.50,134.51 461.87,134.24 463.29,134.01 464.74,133.80 466.22,133.62 467.72,133.48 469.21,133.36 470.70,133.26 472.16,133.20 473.59,133.16 475.01,133.15 476.43,133.17 477.84,133.21 479.25,133.29 480.65,133.39 482.07,133.52 483.48,133.67 484.90,133.85 486.34,134.06 487.78,134.31 489.22,134.58 490.66,134.87 492.10,135.18 493.51,135.51 494.90,135.86 496.23,136.22 497.54,136.60 498.85,137.01 500.16,137.44 501.47,137.90 502.80,138.37 504.14,138.85 505.51,139.34 506.90,139.84 508.29,140.34 509.68,140.85 511.05,141.37 512.40,141.90 513.71,142.42 514.96,142.96 516.14,143.49 517.28,144.04 518.44,144.64 519.60,145.28 520.74,145.93 521.85,146.57 522.91,147.20 523.89,147.78 524.78,148.30 525.52,148.73 526.15,149.11 526.70,149.45 527.18,149.76 527.60,150.04 527.98,150.29 528.33,150.51 528.63,150.71 533.37,143.29 533.12,143.13 532.82,142.93 532.42,142.67 531.94,142.36 531.39,142.01 530.74,141.61 530.02,141.17 529.22,140.70 528.36,140.20 527.39,139.62 526.31,138.98 525.13,138.30 523.88,137.59 522.58,136.88 521.23,136.18 519.86,135.51 518.48,134.89 517.08,134.29 515.64,133.72 514.20,133.15 512.75,132.61 511.31,132.08 509.88,131.56 508.49,131.06 507.12,130.57 505.75,130.08 504.37,129.59 502.97,129.11 501.55,128.64 500.10,128.18 498.61,127.75 497.10,127.34 495.58,126.96 494.04,126.60 492.48,126.26 490.90,125.94 489.31,125.64 487.71,125.37 486.11,125.13 484.52,124.93 482.94,124.76 481.36,124.62 479.79,124.51 478.21,124.42 476.63,124.37 475.04,124.35 473.45,124.36 471.84,124.40 470.22,124.48 468.58,124.58 466.93,124.71 465.27,124.88 463.60,125.07 461.95,125.31 460.31,125.58 458.70,125.89 457.12,126.25 455.56,126.64 454.02,127.08 452.52,127.54 451.05,128.03 449.61,128.55 448.21,129.08 446.82,129.63 445.45,130.22 444.12,130.83 442.83,131.47 441.59,132.11 440.37,132.77 439.18,133.44 438.00,134.10 436.81,134.78 435.58,135.49 434.32,136.24 433.06,137.00 431.80,137.78 430.56,138.56 429.35,139.33 428.17,140.10 427.06,140.84 426.01,141.54 424.99,142.22 423.99,142.91 423.00,143.60 422.02,144.32 421.04,145.07 420.05,145.87 419.07,146.71 418.12,147.59 417.19,148.49 416.29,149.40 415.42,150.33 414.56,151.28 413.72,152.25 412.89,153.24 412.07,154.24 411.26,155.26 410.44,156.32 409.63,157.40 408.82,158.51 408.03,159.65 407.24,160.82 406.47,162.02 405.72,163.24 405.00,164.47 404.28,165.74 403.57,167.03 402.88,168.37 402.20,169.73 401.56,171.11 400.95,172.52 400.38,173.95 399.87,175.40 399.41,176.85 399.01,178.28 398.65,179.70 398.31,181.11 398.00,182.50 397.70,183.88 397.40,185.27 397.09,186.73 396.78,188.26 396.48,189.82 396.19,191.38 395.92,192.91 395.67,194.41 395.44,195.84 395.24,197.19 395.08,198.44 394.94,199.62 394.83,200.73 394.74,201.79 394.67,202.80 394.61,203.79 394.56,204.78 394.50,205.79 394.46,206.91 394.42,208.09 394.40,209.29 394.38,210.46 394.37,211.56 394.36,212.53 394.36,213.34 394.35,213.94" fill="#fff" stroke="none" stroke-width="0"/>
<polyline points="403.15,214.06 403.16,213.43 403.16,212.60 403.17,211.63 403.18,210.56 403.20,209.44 403.22,208.31 403.25,207.22 403.30,206.21 403.35,205.24 403.40,204.29 403.45,203.37 403.52,202.46 403.59,201.53 403.69,200.57 403.81,199.53 403.96,198.41 404.14,197.17 404.35,195.82 404.59,194.40 404.85,192.94 405.12,191.45 405.41,189.97 405.70,188.53 406.00,187.13 406.30,185.75 406.60,184.39 406.89,183.08 407.19,181.80 407.51,180.56 407.85,179.36 408.21,178.19 408.62,177.05 409.08,175.89 409.58,174.72 410.14,173.54 410.72,172.36 411.34,171.18 411.97,170.02 412.62,168.87 413.28,167.76 413.93,166.69 414.60,165.65 415.28,164.62 415.99,163.62 416.71,162.63 417.44,161.65 418.18,160.70 418.93,159.76 419.67,158.85 420.41,157.97 421.15,157.11 421.89,156.29 422.64,155.50 423.39,154.73 424.15,153.99 424.93,153.29 425.70,152.62 426.48,151.99 427.28,151.37 428.12,150.76 429.00,150.14 429.93,149.51 430.91,148.85 431.94,148.16 433.01,147.45 434.12,146.73 435.27,145.99 436.45,145.25 437.64,144.51 438.84,143.79 440.02,143.09 441.19,142.42 442.35,141.76 443.49,141.11 444.61,140.48 445.71,139.89 446.81,139.32 447.91,138.77 449.02,138.26 450.18,137.77 451.40,137.28 452.65,136.81 453.93,136.35 455.22,135.92 456.52,135.52 457.84,135.14 459.16,134.81 460.50,134.51 461.87,134.24 463.29,134.01 464.74,133.80 466.22,133.62 467.72,133.48 469.21,133.36 470.70,133.26 472.16,133.20 473.59,133.16 475.01,133.15 476.43,133.17 477.84,133.21 479.25,133.29 480.65,133.39 482.07,133.52 483.48,133.67 484.90,133.85 486.34,134.06 487.78,134.31 489.22,134.58 490.66,134.87 492.10,135.18 493.51,135.51 494.90,135.86 496.23,136.22 497.54,136.60 498.85,137.01 500.16,137.44 501.47,137.90 502.80,138.37 504.14,138.85 505.51,139.34 506.90,139.84 508.29,140.34 509.68,140.85 511.05,141.37 512.40,141.90 513.71,142.42 514.96,142.96 516.14,143.49 517.28,144.04 518.44,144.64 519.60,145.28 520.74,145.93 521.85,146.57 522.91,147.20 523.89,147.78 524.78,148.30 525.52,148.73 526.15,149.11 526.70,149.45 527.18,149.76 527.60,150.04 527.98,150.29 528.33,150.51 528.63,150.71" fill="none" stroke="#5c5c5c" stroke-width="1.0"/>
<polyline points="394.35,213.94 394.36,213.34 394.36,212.53 394.37,211.56 394.38,210.46 394.40,209.29 394.42,208.09 394.46,206.91 394.50,205.79 394.56,204.78 394.61,203.79 394.67,202.80 394.74,201.79 394.83,200.73 394.94,199.62 395.08,198.44 395.24,197.19 395.44,195.84 395.67,194.41 395.92,192.91 396.19,191.38 396.48,189.82 396.78,188.26 397.09,186.73 397.40,185.27 397.70,183.88 398.00,182.50 398.31,181.11 398.65,179.70 399.01,178.28 399.41,176.85 399.87,175.40 400.38,173.95 400.95,172.52 401.56,171.11 402.20,169.73 402.88,168.37 403.57,167.03 404.28,165.74 405.00,164.47 405.72,163.24 406.47,162.02 407.24,160.82 408.03,159.65 408.82,158.51 409.63,157.40 410.44,156.32 411.26,155.26 412.07,154.24 412.89,153.24 413.72,152.25 414.56,151.28 415.42,150.33 416.29,149.40 417.19,148.49 418.12,147.59 419.07,146.71 420.05,145.87 421.04,145.07 422.02,144.32 423.00,143.60 423.99,142.91 424.99,142.22 426.01,141.54 427.06,140.84 428.17,140.10 429.35,139.33 430.56,138.56 431.80,137.78 433.06,137.00 434.32,136.24 435.58,135.49 436.81,134.78 438.00,134.10 439.18,133.44 440.37,132.77 441.59,132.11 442.83,131.47 444.12,130.83 445.45,130.22 446.82,129.63 448.21,129.08 449.61,128.55 451.05,128.03 452.52,127.54 454.02,127.08 455.56,126.64 457.12,126.25 458.70,125.89 460.31,125.58 461.95,125.31 463.60,125.07 465.27,124.88 466.93,124.71 468.58,124.58 470.22,124.48 471.84,124.40 473.45,124.36 475.04,124.35 476.63,124.37 478.21,124.42 479.79,124.51 481.36,124.62 482.94,124.76 484.52,124.93 486.11,125.13 487.71,125.37 489.31,125.64 490.90,125.94 492.48,126.26 494.04,126.60 495.58,126.96 497.10,127.34 498.61,127.75 500.10,128.18 501.55,128.64 502.97,129.11 504.37,129.59 505.75,130.08 507.12,130.57 508.49,131.06 509.88,131.56 511.31,132.08 512.75,132.61 514.20,133.15 515.64,133.72 517.08,134.29 518.48,134.89 519.86,135.51 521.23,136.18 522.58,136.88 523.88,137.59 525.13,138.30 526.31,138.98 527.39,139.62 528.36,140.20 529.22,140.70 530.02,141.17 530.74,141.61 531.39,142.01 531.94,142.36 532.42,142.67 532.82,142.93 533.12,143.13 533.37,143.29" fill="none" stroke="#5c5c5c" stroke-width="1.0"/>
<polyline points="388.77,209.70 388.91,209.29 389.29,208.82 389.90,208.33 390.74,207.81 391.77,207.29 392.98,206.77 394.34,206.27 395.80,205.81 397.34,205.38 398.91,205.00 400.49,204.69 402.02,204.44 403.48,204.27 404.82,204.18 406.01,204.18 407.03,204.25 407.85,204.40 408.44,204.63 408.80,204.93 408.91,205.30" fill="none" stroke="#1a1a1a" stroke-width="2.6" stroke-linecap="round" stroke-linejoin="round"/>
<polyline points="388.77,209.70 388.91,209.29 389.29,208.82 389.90,208.33 390.74,207.81 391.77,207.29 392.98,206.77 394.34,206.27 395.80,205.81 397.34,205.38 398.91,205.00 400.49,204.69 402.02,204.44 403.48,204.27 404.82,204.18 406.01,204.18 407.03,204.25 407.85,204.40 408.44,204.63 408.80,204.93 408.91,205.30" fill="none" stroke="#fff" stroke-width="1.2" stroke-linecap="round" stroke-linejoin="round"/>
<polyline points="389.53,197.56 389.71,197.16 390.14,196.75 390.81,196.33 391.70,195.92 392.79,195.52 394.05,195.14 395.45,194.81 396.96,194.51 398.54,194.26 400.15,194.08 401.75,193.95 403.30,193.88 404.77,193.88 406.11,193.95 407.30,194.08 408.30,194.27 409.09,194.52 409.65,194.82 409.97,195.16 410.04,195.53" fill="none" stroke="#1a1a1a" stroke-width="2.6" stroke-linecap="round" stroke-linejoin="round"/>
<polyline points="389.53,197.56 389.71,197.16 390.14,196.75 390.81,196.33 391.70,195.92 392.79,195.52 394.05,195.14 395.45,194.81 396.96,194.51 398.54,194.26 400.15,194.08 401.75,193.95 403.30,193.88 404.77,193.88 406.11,193.95 407.30,194.08 408.30,194.27 409.09,194.52 409.65,194.82 409.97,195.16 410.04,195.53" fill="none" stroke="#fff" stroke-width="1.2" stroke-linecap="round" stroke-linejoin="round"/>
<polyline points="391.50,186.05 391.71,185.67 392.17,185.28 392.86,184.91 393.78,184.56 394.89,184.23 396.17,183.95 397.60,183.70 399.12,183.51 400.71,183.37 402.33,183.29 403.94,183.27 405.49,183.32 406.95,183.42 408.29,183.57 409.46,183.79 410.45,184.05 411.22,184.35 411.76,184.68 412.06,185.04 412.10,185.42" fill="none" stroke="#1a1a1a" stroke-width="2.6" stroke-linecap="round" stroke-linejoin="round"/>
<polyline points="391.50,186.05 391.71,185.67 392.17,185.28 392.86,184.91 393.78,184.56 394.89,184.23 396.17,183.95 397.60,183.70 399.12,183.51 400.71,183.37 402.33,183.29 403.94,183.27 405.49,183.32 406.95,183.42 408.29,183.57 409.46,183.79 410.45,184.05 411.22,184.35 411.76,184.68 412.06,185.04 412.10,185.42" fill="none" stroke="#fff" stroke-width="1.2" stroke-linecap="round" stroke-linejoin="round"/>
<polyline points="394.43,173.76 394.70,173.42 395.22,173.11 395.96,172.86 396.92,172.66 398.08,172.52 399.39,172.45 400.83,172.44 402.37,172.49 403.96,172.62 405.57,172.80 407.16,173.04 408.68,173.34 410.11,173.67 411.40,174.05 412.52,174.44 413.46,174.86 414.17,175.28 414.65,175.70 414.88,176.11 414.87,176.49" fill="none" stroke="#1a1a1a" stroke-width="2.6" stroke-linecap="round" stroke-linejoin="round"/>
<polyline points="394.43,173.76 394.70,173.42 395.22,173.11 395.96,172.86 396.92,172.66 398.08,172.52 399.39,172.45 400.83,172.44 402.37,172.49 403.96,172.62 405.57,172.80 407.16,173.04 408.68,173.34 410.11,173.67 411.40,174.05 412.52,174.44 413.46,174.86 414.17,175.28 414.65,175.70 414.88,176.11 414.87,176.49" fill="none" stroke="#fff" stroke-width="1.2" stroke-linecap="round" stroke-linejoin="round"/>
<polyline points="399.77,162.24 400.10,161.95 400.65,161.74 401.43,161.61 402.42,161.58 403.57,161.64 404.88,161.79 406.30,162.02 407.81,162.34 409.36,162.73 410.91,163.19 412.43,163.70 413.89,164.24 415.24,164.82 416.45,165.40 417.49,165.99 418.33,166.56 418.97,167.09 419.37,167.59 419.53,168.03 419.45,168.40" fill="none" stroke="#1a1a1a" stroke-width="2.6" stroke-linecap="round" stroke-linejoin="round"/>
<polyline points="399.77,162.24 400.10,161.95 400.65,161.74 401.43,161.61 402.42,161.58 403.57,161.64 404.88,161.79 406.30,162.02 407.81,162.34 409.36,162.73 410.91,163.19 412.43,163.70 413.89,164.24 415.24,164.82 416.45,165.40 417.49,165.99 418.33,166.56 418.97,167.09 419.37,167.59 419.53,168.03 419.45,168.40" fill="none" stroke="#fff" stroke-width="1.2" stroke-linecap="round" stroke-linejoin="round"/>
<polyline points="406.68,151.99 407.04,151.74 407.62,151.61 408.41,151.59 409.39,151.69 410.53,151.91 411.80,152.24 413.18,152.67 414.63,153.19 416.11,153.78 417.58,154.45 419.02,155.16 420.39,155.90 421.65,156.65 422.76,157.40 423.72,158.12 424.48,158.80 425.03,159.42 425.36,159.96 425.46,160.42 425.33,160.77" fill="none" stroke="#1a1a1a" stroke-width="2.6" stroke-linecap="round" stroke-linejoin="round"/>
<polyline points="406.68,151.99 407.04,151.74 407.62,151.61 408.41,151.59 409.39,151.69 410.53,151.91 411.80,152.24 413.18,152.67 414.63,153.19 416.11,153.78 417.58,154.45 419.02,155.16 420.39,155.90 421.65,156.65 422.76,157.40 423.72,158.12 424.48,158.80 425.03,159.42 425.36,159.96 425.46,160.42 425.33,160.77" fill="none" stroke="#fff" stroke-width="1.2" stroke-linecap="round" stroke-linejoin="round"/>
<polyline points="415.47,142.37 415.88,142.20 416.48,142.19 417.25,142.33 418.19,142.63 419.26,143.07 420.44,143.65 421.70,144.35 423.01,145.16 424.34,146.04 425.65,146.99 426.92,147.98 428.10,148.98 429.18,149.98 430.12,150.93 430.91,151.83 431.52,152.65 431.93,153.37 432.15,153.97 432.15,154.44 431.95,154.76" fill="none" stroke="#1a1a1a" stroke-width="2.6" stroke-linecap="round" stroke-linejoin="round"/>
<polyline points="415.47,142.37 415.88,142.20 416.48,142.19 417.25,142.33 418.19,142.63 419.26,143.07 420.44,143.65 421.70,144.35 423.01,145.16 424.34,146.04 425.65,146.99 426.92,147.98 428.10,148.98 429.18,149.98 430.12,150.93 430.91,151.83 431.52,152.65 431.93,153.37 432.15,153.97 432.15,154.44 431.95,154.76" fill="none" stroke="#fff" stroke-width="1.2" stroke-linecap="round" stroke-linejoin="round"/>
<polyline points="425.29,135.28 425.71,135.16 426.30,135.21 427.06,135.44 427.96,135.84 428.97,136.40 430.08,137.11 431.26,137.94 432.47,138.89 433.69,139.92 434.89,141.01 436.04,142.13 437.11,143.26 438.07,144.37 438.90,145.42 439.58,146.40 440.09,147.29 440.42,148.05 440.57,148.67 440.52,149.13 440.28,149.43" fill="none" stroke="#1a1a1a" stroke-width="2.6" stroke-linecap="round" stroke-linejoin="round"/>
<polyline points="425.29,135.28 425.71,135.16 426.30,135.21 427.06,135.44 427.96,135.84 428.97,136.40 430.08,137.11 431.26,137.94 432.47,138.89 433.69,139.92 434.89,141.01 436.04,142.13 437.11,143.26 438.07,144.37 438.90,145.42 439.58,146.40 440.09,147.29 440.42,148.05 440.57,148.67 440.52,149.13 440.28,149.43" fill="none" stroke="#fff" stroke-width="1.2" stroke-linecap="round" stroke-linejoin="round"/>
<polyline points="435.20,129.25 435.63,129.15 436.22,129.24 436.96,129.51 437.83,129.96 438.81,130.59 439.87,131.36 441.00,132.26 442.15,133.28 443.31,134.38 444.44,135.54 445.51,136.73 446.51,137.92 447.40,139.09 448.17,140.19 448.79,141.21 449.25,142.12 449.53,142.90 449.64,143.53 449.56,143.99 449.31,144.28" fill="none" stroke="#1a1a1a" stroke-width="2.6" stroke-linecap="round" stroke-linejoin="round"/>
<polyline points="435.20,129.25 435.63,129.15 436.22,129.24 436.96,129.51 437.83,129.96 438.81,130.59 439.87,131.36 441.00,132.26 442.15,133.28 443.31,134.38 444.44,135.54 445.51,136.73 446.51,137.92 447.40,139.09 448.17,140.19 448.79,141.21 449.25,142.12 449.53,142.90 449.64,143.53 449.56,143.99 449.31,144.28" fill="none" stroke="#fff" stroke-width="1.2" stroke-linecap="round" stroke-linejoin="round"/>
<polyline points="446.56,123.69 447.00,123.67 447.57,123.85 448.25,124.25 449.03,124.84 449.90,125.61 450.82,126.55 451.78,127.63 452.75,128.82 453.71,130.10 454.63,131.43 455.50,132.78 456.28,134.12 456.97,135.41 457.54,136.63 457.99,137.74 458.29,138.71 458.44,139.53 458.45,140.16 458.30,140.61 458.00,140.84" fill="none" stroke="#1a1a1a" stroke-width="2.6" stroke-linecap="round" stroke-linejoin="round"/>
<polyline points="446.56,123.69 447.00,123.67 447.57,123.85 448.25,124.25 449.03,124.84 449.90,125.61 450.82,126.55 451.78,127.63 452.75,128.82 453.71,130.10 454.63,131.43 455.50,132.78 456.28,134.12 456.97,135.41 457.54,136.63 457.99,137.74 458.29,138.71 458.44,139.53 458.45,140.16 458.30,140.61 458.00,140.84" fill="none" stroke="#fff" stroke-width="1.2" stroke-linecap="round" stroke-linejoin="round"/>
<polyline points="459.06,120.06 459.49,120.13 460.01,120.42 460.60,120.94 461.25,121.68 461.94,122.61 462.66,123.72 463.38,124.96 464.09,126.33 464.77,127.77 465.41,129.26 465.99,130.76 466.49,132.23 466.90,133.64 467.22,134.94 467.43,136.12 467.53,137.13 467.51,137.96 467.39,138.59 467.15,138.99 466.81,139.16" fill="none" stroke="#1a1a1a" stroke-width="2.6" stroke-linecap="round" stroke-linejoin="round"/>
<polyline points="459.06,120.06 459.49,120.13 460.01,120.42 460.60,120.94 461.25,121.68 461.94,122.61 462.66,123.72 463.38,124.96 464.09,126.33 464.77,127.77 465.41,129.26 465.99,130.76 466.49,132.23 466.90,133.64 467.22,134.94 467.43,136.12 467.53,137.13 467.51,137.96 467.39,138.59 467.15,138.99 466.81,139.16" fill="none" stroke="#fff" stroke-width="1.2" stroke-linecap="round" stroke-linejoin="round"/>
<polyline points="471.33,118.77 471.75,118.89 472.22,119.26 472.74,119.85 473.29,120.67 473.85,121.69 474.41,122.88 474.96,124.21 475.48,125.66 475.96,127.18 476.39,128.74 476.76,130.30 477.06,131.83 477.29,133.27 477.42,134.61 477.48,135.80 477.44,136.82 477.31,137.64 477.11,138.25 476.82,138.61 476.46,138.74" fill="none" stroke="#1a1a1a" stroke-width="2.6" stroke-linecap="round" stroke-linejoin="round"/>
<polyline points="471.33,118.77 471.75,118.89 472.22,119.26 472.74,119.85 473.29,120.67 473.85,121.69 474.41,122.88 474.96,124.21 475.48,125.66 475.96,127.18 476.39,128.74 476.76,130.30 477.06,131.83 477.29,133.27 477.42,134.61 477.48,135.80 477.44,136.82 477.31,137.64 477.11,138.25 476.82,138.61 476.46,138.74" fill="none" stroke="#fff" stroke-width="1.2" stroke-linecap="round" stroke-linejoin="round"/>
<polyline points="483.65,119.17 484.05,119.35 484.48,119.77 484.91,120.43 485.34,121.32 485.76,122.40 486.16,123.65 486.52,125.05 486.85,126.55 487.12,128.12 487.34,129.73 487.50,131.32 487.60,132.87 487.62,134.34 487.58,135.68 487.48,136.87 487.30,137.88 487.07,138.67 486.78,139.24 486.45,139.57 486.08,139.65" fill="none" stroke="#1a1a1a" stroke-width="2.6" stroke-linecap="round" stroke-linejoin="round"/>
<polyline points="483.65,119.17 484.05,119.35 484.48,119.77 484.91,120.43 485.34,121.32 485.76,122.40 486.16,123.65 486.52,125.05 486.85,126.55 487.12,128.12 487.34,129.73 487.50,131.32 487.60,132.87 487.62,134.34 487.58,135.68 487.48,136.87 487.30,137.88 487.07,138.67 486.78,139.24 486.45,139.57 486.08,139.65" fill="none" stroke="#fff" stroke-width="1.2" stroke-linecap="round" stroke-linejoin="round"/>
<polyline points="495.65,121.21 496.03,121.43 496.40,121.90 496.75,122.60 497.07,123.53 497.37,124.65 497.61,125.94 497.81,127.37 497.96,128.90 498.05,130.50 498.08,132.12 498.05,133.72 497.96,135.27 497.82,136.73 497.62,138.06 497.37,139.23 497.09,140.21 496.76,140.97 496.41,141.50 496.04,141.79 495.66,141.82" fill="none" stroke="#1a1a1a" stroke-width="2.6" stroke-linecap="round" stroke-linejoin="round"/>
<polyline points="495.65,121.21 496.03,121.43 496.40,121.90 496.75,122.60 497.07,123.53 497.37,124.65 497.61,125.94 497.81,127.37 497.96,128.90 498.05,130.50 498.08,132.12 498.05,133.72 497.96,135.27 497.82,136.73 497.62,138.06 497.37,139.23 497.09,140.21 496.76,140.97 496.41,141.50 496.04,141.79 495.66,141.82" fill="none" stroke="#fff" stroke-width="1.2" stroke-linecap="round" stroke-linejoin="round"/>
<polyline points="507.15,124.63 507.51,124.89 507.83,125.39 508.11,126.13 508.34,127.08 508.51,128.23 508.63,129.54 508.69,130.98 508.68,132.52 508.61,134.12 508.47,135.73 508.28,137.32 508.04,138.86 507.75,140.29 507.42,141.60 507.05,142.73 506.67,143.68 506.27,144.41 505.86,144.90 505.47,145.15 505.09,145.14" fill="none" stroke="#1a1a1a" stroke-width="2.6" stroke-linecap="round" stroke-linejoin="round"/>
<polyline points="507.15,124.63 507.51,124.89 507.83,125.39 508.11,126.13 508.34,127.08 508.51,128.23 508.63,129.54 508.69,130.98 508.68,132.52 508.61,134.12 508.47,135.73 508.28,137.32 508.04,138.86 507.75,140.29 507.42,141.60 507.05,142.73 506.67,143.68 506.27,144.41 505.86,144.90 505.47,145.15 505.09,145.14" fill="none" stroke="#fff" stroke-width="1.2" stroke-linecap="round" stroke-linejoin="round"/>
<polyline points="518.01,128.61 518.35,128.89 518.64,129.41 518.88,130.16 519.06,131.13 519.17,132.28 519.21,133.59 519.18,135.04 519.09,136.57 518.93,138.16 518.70,139.77 518.42,141.35 518.09,142.86 517.72,144.28 517.32,145.56 516.89,146.68 516.45,147.60 516.01,148.30 515.58,148.77 515.17,149.00 514.79,148.97" fill="none" stroke="#1a1a1a" stroke-width="2.6" stroke-linecap="round" stroke-linejoin="round"/>
<polyline points="518.01,128.61 518.35,128.89 518.64,129.41 518.88,130.16 519.06,131.13 519.17,132.28 519.21,133.59 519.18,135.04 519.09,136.57 518.93,138.16 518.70,139.77 518.42,141.35 518.09,142.86 517.72,144.28 517.32,145.56 516.89,146.68 516.45,147.60 516.01,148.30 515.58,148.77 515.17,149.00 514.79,148.97" fill="none" stroke="#fff" stroke-width="1.2" stroke-linecap="round" stroke-linejoin="round"/>
<polyline points="529.04,134.09 529.34,134.41 529.56,134.97 529.70,135.75 529.74,136.73 529.70,137.89 529.57,139.20 529.35,140.62 529.05,142.13 528.68,143.68 528.25,145.24 527.76,146.77 527.23,148.23 526.67,149.59 526.10,150.81 525.53,151.86 524.97,152.71 524.44,153.35 523.96,153.76 523.52,153.93 523.15,153.85" fill="none" stroke="#1a1a1a" stroke-width="2.6" stroke-linecap="round" stroke-linejoin="round"/>
<polyline points="529.04,134.09 529.34,134.41 529.56,134.97 529.70,135.75 529.74,136.73 529.70,137.89 529.57,139.20 529.35,140.62 529.05,142.13 528.68,143.68 528.25,145.24 527.76,146.77 527.23,148.23 526.67,149.59 526.10,150.81 525.53,151.86 524.97,152.71 524.44,153.35 523.96,153.76 523.52,153.93 523.15,153.85" fill="none" stroke="#fff" stroke-width="1.2" stroke-linecap="round" stroke-linejoin="round"/>
<rect x="389.00" y="213.30" width="19.50" height="100.20" fill="#fff" stroke="#5c5c5c" stroke-width="1.0"/>
<path d="M389,215.00 Q398.75,216.00 408.5,214.40" fill="none" stroke="#5c5c5c" stroke-width="1.1" />
<path d="M389,217.95 Q398.75,218.95 408.5,217.35" fill="none" stroke="#5c5c5c" stroke-width="1.1" />
<path d="M389,220.90 Q398.75,221.90 408.5,220.30" fill="none" stroke="#5c5c5c" stroke-width="1.1" />
<path d="M389,223.85 Q398.75,224.85 408.5,223.25" fill="none" stroke="#5c5c5c" stroke-width="1.1" />
<path d="M389,226.80 Q398.75,227.80 408.5,226.20" fill="none" stroke="#5c5c5c" stroke-width="1.1" />
<path d="M389,229.75 Q398.75,230.75 408.5,229.15" fill="none" stroke="#5c5c5c" stroke-width="1.1" />
<path d="M389,232.70 Q398.75,233.70 408.5,232.10" fill="none" stroke="#5c5c5c" stroke-width="1.1" />
<path d="M389,235.65 Q398.75,236.65 408.5,235.05" fill="none" stroke="#5c5c5c" stroke-width="1.1" />
<path d="M389,238.60 Q398.75,239.60 408.5,238.00" fill="none" stroke="#5c5c5c" stroke-width="1.1" />
<path d="M389,241.55 Q398.75,242.55 408.5,240.95" fill="none" stroke="#5c5c5c" stroke-width="1.1" />
<path d="M389,244.50 Q398.75,245.50 408.5,243.90" fill="none" stroke="#5c5c5c" stroke-width="1.1" />
<path d="M389,247.45 Q398.75,248.45 408.5,246.85" fill="none" stroke="#5c5c5c" stroke-width="1.1" />
<path d="M389,250.40 Q398.75,251.40 408.5,249.80" fill="none" stroke="#5c5c5c" stroke-width="1.1" />
<path d="M389,253.35 Q398.75,254.35 408.5,252.75" fill="none" stroke="#5c5c5c" stroke-width="1.1" />
<path d="M389,256.30 Q398.75,257.30 408.5,255.70" fill="none" stroke="#5c5c5c" stroke-width="1.1" />
<path d="M389,259.25 Q398.75,260.25 408.5,258.65" fill="none" stroke="#5c5c5c" stroke-width="1.1" />
<path d="M389,262.20 Q398.75,263.20 408.5,261.60" fill="none" stroke="#5c5c5c" stroke-width="1.1" />
<path d="M389,265.15 Q398.75,266.15 408.5,264.55" fill="none" stroke="#5c5c5c" stroke-width="1.1" />
<path d="M389,268.10 Q398.75,269.10 408.5,267.50" fill="none" stroke="#5c5c5c" stroke-width="1.1" />
<path d="M389,271.05 Q398.75,272.05 408.5,270.45" fill="none" stroke="#5c5c5c" stroke-width="1.1" />
<path d="M389,274.00 Q398.75,275.00 408.5,273.40" fill="none" stroke="#5c5c5c" stroke-width="1.1" />
<path d="M389,276.95 Q398.75,277.95 408.5,276.35" fill="none" stroke="#5c5c5c" stroke-width="1.1" />
<path d="M389,279.90 Q398.75,280.90 408.5,279.30" fill="none" stroke="#5c5c5c" stroke-width="1.1" />
<path d="M389,282.85 Q398.75,283.85 408.5,282.25" fill="none" stroke="#5c5c5c" stroke-width="1.1" />
<path d="M389,285.80 Q398.75,286.80 408.5,285.20" fill="none" stroke="#5c5c5c" stroke-width="1.1" />
<path d="M389,288.75 Q398.75,289.75 408.5,288.15" fill="none" stroke="#5c5c5c" stroke-width="1.1" />
<path d="M389,291.70 Q398.75,292.70 408.5,291.10" fill="none" stroke="#5c5c5c" stroke-width="1.1" />
<path d="M389,294.65 Q398.75,295.65 408.5,294.05" fill="none" stroke="#5c5c5c" stroke-width="1.1" />
<path d="M389,297.60 Q398.75,298.60 408.5,297.00" fill="none" stroke="#5c5c5c" stroke-width="1.1" />
<path d="M389,300.55 Q398.75,301.55 408.5,299.95" fill="none" stroke="#5c5c5c" stroke-width="1.1" />
<path d="M389,303.50 Q398.75,304.50 408.5,302.90" fill="none" stroke="#5c5c5c" stroke-width="1.1" />
<path d="M389,306.45 Q398.75,307.45 408.5,305.85" fill="none" stroke="#5c5c5c" stroke-width="1.1" />
<path d="M389,309.40 Q398.75,310.40 408.5,308.80" fill="none" stroke="#5c5c5c" stroke-width="1.1" />
<path d="M389,312.35 Q398.75,313.35 408.5,311.75" fill="none" stroke="#5c5c5c" stroke-width="1.1" />
<line x1="389.00" y1="313.30" x2="408.50" y2="313.30" stroke="#111" stroke-width="1.6"/>
<g transform="translate(536.6,155.8) rotate(37)">
<rect x="-12.5" y="-9" width="25" height="18" fill="#fff" stroke="#111" stroke-width="1.1"/>
<line x1="-10.50" y1="-9" x2="-10.50" y2="9" stroke="#222" stroke-width="0.9"/>
<line x1="-7.80" y1="-9" x2="-7.80" y2="9" stroke="#222" stroke-width="0.9"/>
<line x1="-5.10" y1="-9" x2="-5.10" y2="9" stroke="#222" stroke-width="0.9"/>
<line x1="-2.40" y1="-9" x2="-2.40" y2="9" stroke="#222" stroke-width="0.9"/>
<line x1="0.30" y1="-9" x2="0.30" y2="9" stroke="#222" stroke-width="0.9"/>
<line x1="3.00" y1="-9" x2="3.00" y2="9" stroke="#222" stroke-width="0.9"/>
<line x1="5.70" y1="-9" x2="5.70" y2="9" stroke="#222" stroke-width="0.9"/>
<line x1="8.40" y1="-9" x2="8.40" y2="9" stroke="#222" stroke-width="0.9"/>
<line x1="11.10" y1="-9" x2="11.10" y2="9" stroke="#222" stroke-width="0.9"/>
<line x1="12.5" y1="-9" x2="12.5" y2="9" stroke="#111" stroke-width="1.8"/>
</g>
<path d="M544.8,168 C550.5,175 552.5,187 552.5,205 L552.5,236.7" fill="none" stroke="#5c5c5c" stroke-width="1.0" />
<path d="M551.2,160.5 C558,168 560.2,183 560.2,205 L560.2,236.7" fill="none" stroke="#5c5c5c" stroke-width="1.0" />
<line x1="552.50" y1="236.70" x2="560.00" y2="236.70" stroke="#5c5c5c" stroke-width="1.0"/>
<polyline points="551.50,236.70 549.60,256.25 562.50,256.25 561.00,236.70" fill="none" stroke="#5c5c5c" stroke-width="1.0"/>
<rect x="544.20" y="256.25" width="21.60" height="17.50" fill="#fff" stroke="#5c5c5c" stroke-width="1.0"/>
<line x1="544.20" y1="256.40" x2="565.80" y2="256.40" stroke="#111" stroke-width="1.5"/>
<line x1="544.20" y1="273.60" x2="567.00" y2="273.60" stroke="#111" stroke-width="1.8"/>
<polyline points="409.50,319.00 544.00,261.25" fill="none" stroke="#5c5c5c" stroke-width="1.0"/>
<polyline points="409.50,327.00 544.00,269.20" fill="none" stroke="#5c5c5c" stroke-width="1.0"/>
<path d="M544,261.25 Q546.5,265 544.5,269.2" fill="none" stroke="#5c5c5c" stroke-width="1.0" />
<path d="M409.5,319 Q408,323 409.5,327" fill="none" stroke="#5c5c5c" stroke-width="0.9" />
<path d="M544.6,273.75 L544.6,330 Q544.6,335 543.5,337.5 L568.5,337.5 Q567.8,335 567.8,330 L567.8,273.75" fill="none" stroke="#5c5c5c" stroke-width="1.0" />
<line x1="544.60" y1="318.50" x2="567.80" y2="318.50" stroke="#5c5c5c" stroke-width="1.0"/>
<line x1="544.60" y1="321.50" x2="567.80" y2="321.50" stroke="#5c5c5c" stroke-width="1.0"/>
<path d="M543.5,337.5 Q545,340 548,340 L566,340 Q567.5,340 568.5,337.5" fill="none" stroke="#5c5c5c" stroke-width="1.0" />
<line x1="548.00" y1="340.30" x2="566.00" y2="340.30" stroke="#111" stroke-width="1.5"/>
<line x1="556.20" y1="340.00" x2="556.20" y2="419.20" stroke="#707070" stroke-width="0.9"/>
<line x1="567.00" y1="340.50" x2="582.00" y2="340.50" stroke="#707070" stroke-width="0.9"/>
<line x1="578.70" y1="340.50" x2="578.70" y2="479.60" stroke="#707070" stroke-width="0.9"/>
<polygon points="578.70,341.00 579.70,346.50 577.70,346.50" fill="#333"/>
<polygon points="578.70,479.10 577.70,473.60 579.70,473.60" fill="#333"/>
<text transform="translate(577.60,409.80) rotate(-90) scale(0.6,1)" text-anchor="middle" font-size="17.3" fill="#111">194</text>
<line x1="398.60" y1="417.30" x2="556.20" y2="417.30" stroke="#707070" stroke-width="0.9"/>
<polygon points="399.10,417.30 404.60,416.30 404.60,418.30" fill="#333"/>
<polygon points="555.70,417.30 550.20,418.30 550.20,416.30" fill="#333"/>
<text transform="translate(477.60,416.20) scale(0.6,1)" text-anchor="middle" font-size="17.3" fill="#111">220</text>
<line x1="398.60" y1="414.00" x2="398.60" y2="471.40" stroke="#707070" stroke-width="0.9"/>
<path d="M389,313.5 L380.3,471.4" fill="none" stroke="#5c5c5c" stroke-width="1.0" />
<path d="M408.5,313.5 L417.3,471.4" fill="none" stroke="#5c5c5c" stroke-width="1.0" />
<line x1="386.00" y1="367.70" x2="411.70" y2="367.70" stroke="#666" stroke-width="1.5"/>
<path d="M414.7,409 Q415.5,408.5 417.5,408.5 L449.2,377.3 Q451.5,376.2 452.5,378.8 Q452.5,380.5 451.5,381 L415.2,417.3" fill="none" stroke="#111" stroke-width="1.0" />
<line x1="380.30" y1="471.40" x2="417.30" y2="471.40" stroke="#5c5c5c" stroke-width="1.0"/>
<polyline points="380.30,471.40 378.40,475.50 378.40,479.60 420.00,479.60 420.00,475.50 417.30,471.40" fill="none" stroke="#5c5c5c" stroke-width="1.0"/>
<line x1="378.40" y1="475.70" x2="420.00" y2="475.70" stroke="#5c5c5c" stroke-width="1.0"/>
<line x1="420.00" y1="479.60" x2="582.00" y2="479.60" stroke="#707070" stroke-width="0.9"/>
<line x1="387.30" y1="479.60" x2="387.30" y2="527.00" stroke="#5c5c5c" stroke-width="1.0"/>
<line x1="410.80" y1="479.60" x2="410.80" y2="527.00" stroke="#5c5c5c" stroke-width="1.0"/>
<rect x="379.30" y="492.10" width="39.50" height="1.40" fill="#999" stroke="#777" stroke-width="0.6"/>
<rect x="379.30" y="500.30" width="39.50" height="1.40" fill="#999" stroke="#777" stroke-width="0.6"/>
<path d="M396.60,494 L397.10,496.3 L400.10,496.3 L400.60,494" fill="none" stroke="#5c5c5c" stroke-width="0.9" />
<path d="M411.20,494 L411.70,496.3 L414.70,496.3 L415.20,494" fill="none" stroke="#5c5c5c" stroke-width="0.9" />
<path d="M380.35,506.3 L380.35,502 L383.60,502 L383.60,506.3" fill="none" stroke="#5c5c5c" stroke-width="1.0" />
<path d="M378.75,506.3 L378.75,513 Q378.75,515.3 380.75,515.3 L383.20,515.3 Q385.20,515.3 385.20,513 L385.20,506.3 Z" fill="#fff" stroke="#111" stroke-width="1.1" />
<line x1="380.55" y1="507.00" x2="380.55" y2="514.50" stroke="#888" stroke-width="0.8"/>
<line x1="383.40" y1="507.00" x2="383.40" y2="514.50" stroke="#888" stroke-width="0.8"/>
<path d="M404.90,506.3 L404.90,502 L408.60,502 L408.60,506.3" fill="none" stroke="#5c5c5c" stroke-width="1.0" />
<path d="M403.30,506.3 L403.30,513 Q403.30,515.3 405.30,515.3 L408.20,515.3 Q410.20,515.3 410.20,513 L410.20,506.3 Z" fill="#fff" stroke="#111" stroke-width="1.1" />
<line x1="405.10" y1="507.00" x2="405.10" y2="514.50" stroke="#888" stroke-width="0.8"/>
<line x1="408.40" y1="507.00" x2="408.40" y2="514.50" stroke="#888" stroke-width="0.8"/>
<path d="M385.2,506.6 L415,506.6 L415,513.3 L385.2,513.3" fill="none" stroke="#5c5c5c" stroke-width="1.0" />
<line x1="403.30" y1="506.60" x2="403.30" y2="513.30" stroke="#5c5c5c" stroke-width="1.0"/>
<path d="M387.3,527 Q387.3,529.6 389.5,529.6 L408.5,529.6 Q410.8,529.6 410.8,527" fill="none" stroke="#5c5c5c" stroke-width="1.6" />
<line x1="389.50" y1="529.60" x2="389.50" y2="589.00" stroke="#707070" stroke-width="1.2"/>
<line x1="408.50" y1="529.60" x2="408.50" y2="589.00" stroke="#707070" stroke-width="1.2"/>
</svg></body></html>
